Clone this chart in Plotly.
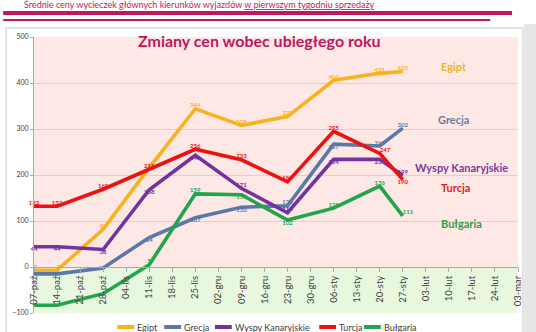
import plotly.graph_objects as go

# Weekly axis (all weeks of the sales season)
categories = ["07-paź", "14-paź", "21-paź", "28-paź", "04-lis", "11-lis", "18-lis",
              "25-lis", "02-gru", "09-gru", "16-gru", "23-gru", "30-gru", "06-sty",
              "13-sty", "20-sty", "27-sty", "03-lut", "10-lut", "17-lut", "24-lut", "03-mar"]

# Weeks with measurements
weeks = ["07-paź", "14-paź", "28-paź", "11-lis", "25-lis", "09-gru", "23-gru",
         "06-sty", "20-sty", "27-sty"]

egipt = [-7, -7, 82, 216, 344, 308, 327, 406, 421, 425]
grecja = [-15, -15, -2, 64, 107, 130, 133, 267, 263, 302]
wyspy = [44, 44, 38, 168, 243, 171, 118, 234, 234, 199]
turcja = [132, 132, 169, 213, 256, 233, 185, 295, 247, 190]
bulgaria = [-83, -83, -58, 5, 159, 157, 102, 128, 176, 111]

series_names = ["Egipt", "Grecja", "Wyspy Kanaryjskie", "Turcja", "Bułgaria"]
series_values = [egipt, grecja, wyspy, turcja, bulgaria]

y_ticks = [-100, 0, 100, 200, 300, 400, 500]

# ---- styling ----
colors = ["#F7B21E", "#5B78A8", "#7232A0", "#EE1111", "#1FA64A"]
label_colors = ["#F2B530", "#6B7C9C", "#7A3A9E", "#E51B1B", "#2E9E4A"]

# which point labels are shown, and where they sit
shown = [
    [1, 1, 1, 0, 1, 1, 1, 1, 1, 1],
    [0, 0, 0, 1, 1, 1, 1, 1, 1, 1],
    [1, 1, 1, 1, 1, 1, 1, 1, 1, 1],
    [1, 1, 1, 1, 1, 1, 1, 1, 1, 1],
    [0, 0, 0, 1, 1, 1, 1, 1, 1, 1],
]
T, B = "top center", "bottom center"
positions = [
    [T, T, T, T, T, T, T, T, T, T],
    [T, T, T, B, B, B, T, B, T, T],
    [B, B, B, B, B, T, T, B, B, T],
    [T, T, T, T, T, T, T, T, "top right", B],
    [T, T, T, T, T, B, B, T, T, "top right"],
]

FONT = "Lato, 'Open Sans', sans-serif"

# plot area in pixels (used to place decorations in paper units)
L, R, TOP, BOT = 31, 518, 37, 313


def px(x):
    return (x - L) / (R - L)


def py(y):
    return (BOT - y) / (BOT - TOP)


fig = go.Figure()

for name, vals, col, mask, pos in zip(series_names, series_values, colors, shown, positions):
    fig.add_trace(go.Scatter(
        x=weeks, y=vals, name=name, mode="lines+text",
        line=dict(color=col, width=3.6),
        text=[str(v) if m else "" for v, m in zip(vals, mask)],
        textposition=pos,
        textfont=dict(size=6, color=col, family=FONT, weight="bold"),
        showlegend=False, cliponaxis=False,
    ))

shapes = []
# positive / negative background bands
shapes.append(dict(type="rect", xref="paper", yref="y", x0=0, x1=1, y0=0, y1=500,
                   fillcolor="#FDE8E5", line=dict(width=0), layer="below"))
shapes.append(dict(type="rect", xref="paper", yref="y", x0=0, x1=1, y0=-100, y1=0,
                   fillcolor="#E7F8DF", line=dict(width=0), layer="below"))
# chart frame
shapes.append(dict(type="rect", xref="paper", yref="paper",
                   x0=px(3), x1=px(523), y0=py(345), y1=py(28),
                   line=dict(color="#C9C9C9", width=1), fillcolor="rgba(0,0,0,0)", layer="below"))
# slide background strip on the right
shapes.append(dict(type="rect", xref="paper", yref="paper",
                   x0=px(524), x1=px(540), y0=py(345), y1=py(24),
                   fillcolor="#E6E6E6", line=dict(width=0), layer="below"))
# header rules
shapes.append(dict(type="rect", xref="paper", yref="paper",
                   x0=px(0), x1=px(512), y0=py(15), y1=py(11),
                   fillcolor="#C2185B", line=dict(width=0), layer="below"))
shapes.append(dict(type="rect", xref="paper", yref="paper",
                   x0=px(0), x1=px(490), y0=py(21), y1=py(19),
                   fillcolor="#C2185B", line=dict(width=0), layer="below"))

annotations = []
# slide header above the chart
annotations.append(dict(
    xref="paper", yref="paper", x=px(19), y=py(5), xanchor="left", yanchor="middle",
    text="Średnie ceny wycieczek głównych kierunków wyjazdów <u>w pierwszym tygodniu sprzedaży</u>",
    showarrow=False, font=dict(size=9, color="#C2185B", family=FONT)))
# chart title
annotations.append(dict(
    xref="paper", yref="paper", x=px(257), y=py(40), xanchor="center", yanchor="middle",
    text="<b>Zmiany cen wobec ubiegłego roku</b>", showarrow=False,
    font=dict(size=16, color="#BE1660", family=FONT)))

# series names beside the line ends
name_pos = [(454, 66), (453, 119), (461, 167), (455, 187), (461, 223)]
for name, col, (x, y) in zip(series_names, label_colors, name_pos):
    annotations.append(dict(
        xref="paper", yref="paper", x=px(x), y=py(y), xanchor="center", yanchor="middle",
        text="<b>" + name + "</b>", showarrow=False, font=dict(size=11, color=col, family=FONT)))

# legend row
legend_x = [115, 162, 213, 318, 363]
for name, col, x in zip(series_names, colors, legend_x):
    shapes.append(dict(type="line", xref="paper", yref="paper",
                       x0=px(x), x1=px(x + 17), y0=py(327), y1=py(327),
                       line=dict(color=col, width=4)))
    annotations.append(dict(
        xref="paper", yref="paper", x=px(x + 18), y=py(327), xanchor="left", yanchor="middle",
        text=name, showarrow=False, font=dict(size=9, color="#404040", family=FONT)))

fig.update_layout(
    width=536, height=332,
    margin=dict(l=L, r=536 - R, t=TOP, b=332 - BOT),
    paper_bgcolor="white", plot_bgcolor="rgba(0,0,0,0)",
    font=dict(family=FONT, color="#404040"),
    shapes=shapes, annotations=annotations,
    xaxis=dict(
        type="category", categoryorder="array", categoryarray=categories,
        range=[0, len(categories) - 1],
        anchor="free", position=100 / 600,
        showgrid=False, zeroline=False,
        showline=True, linecolor="#A8A8A8", linewidth=1,
        ticks="outside", ticklen=4, tickcolor="#A8A8A8",
        tickangle=-90, tickfont=dict(size=9.5, color="#404040", family=FONT),
    ),
    yaxis=dict(
        range=[-100, 500], tickvals=y_ticks, domain=[0, 1],
        showgrid=True, gridcolor="#E2CFCC", gridwidth=1,
        zeroline=False, showline=True, linecolor="#A8A8A8", linewidth=1,
        ticks="outside", ticklen=3, tickcolor="#A8A8A8",
        tickfont=dict(size=7, color="#404040", family=FONT),
    ),
)

fig.write_html("out.html")
